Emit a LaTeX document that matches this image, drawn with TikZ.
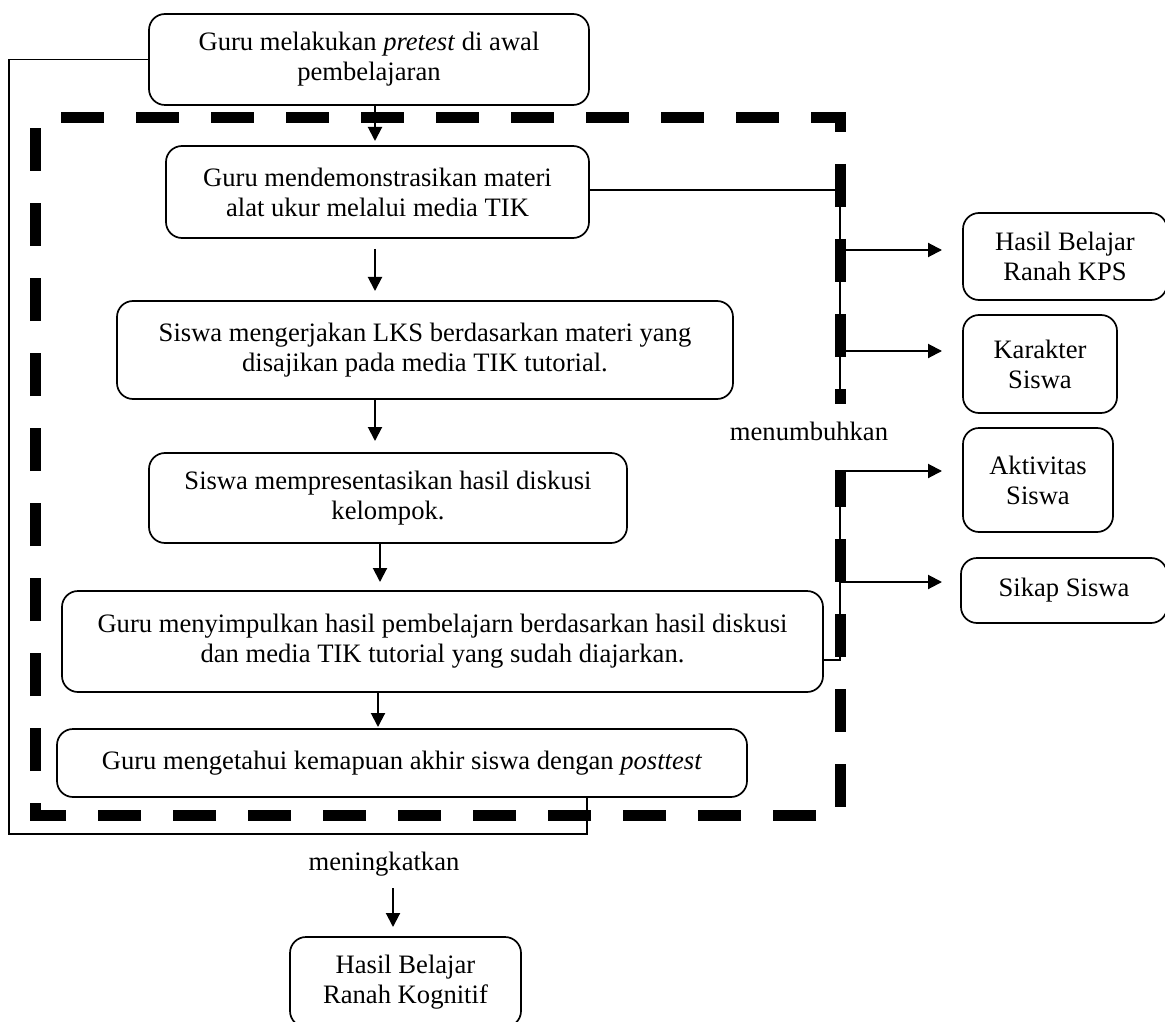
\documentclass[tikz,border=0pt]{standalone}
\usepackage{fontspec}
\setmainfont{Liberation Serif}
\usetikzlibrary{arrows.meta,calc}
\begin{document}
\begin{tikzpicture}[x=0.5pt,y=-0.5pt,
  txt/.style={font=\fontsize{13.3}{15}\selectfont},
  box/.style={txt, draw, line width=0.85pt, rounded corners=8pt, inner sep=0pt, outer sep=0pt, align=center},
  conn/.style={line width=0.65pt},
  arr/.style={line width=1pt, -{Triangle[length=7pt,width=7pt]}},
  bigdash/.style={line width=5.5pt, dash pattern=on 21.5pt off 16pt, dash phase=24.5pt}]
\useasboundingbox (0,0) rectangle (1165,1021);

% dashed frame
\coordinate (f1) at (35,118);
\coordinate (f2) at (840,118);
\coordinate (f3) at (840,815);
\coordinate (f4) at (35,815);
\draw[bigdash] (f1) -- (f2) -- (f3) -- (f4) -- cycle;

% boxes
\node[box, minimum width=220pt, minimum height=45.5pt] (b1) at (369,59.5) {Guru melakukan \textit{pretest} di awal\\pembelajaran};
\node[box, minimum width=211.5pt, minimum height=46pt] (b2) at (377.5,192) {Guru mendemonstrasikan materi\\alat ukur melalui media TIK};
\node[box, minimum width=308pt, minimum height=49pt] (b3) at (425,350) {Siswa mengerjakan LKS berdasarkan materi yang\\disajikan pada media TIK tutorial.};
\node[box, minimum width=239pt, minimum height=45pt] (b4) at (388,498) {Siswa mempresentasikan hasil diskusi\\kelompok.};
\node[box, minimum width=380.5pt, minimum height=50.5pt] (b5) at (442.5,641.5) {Guru menyimpulkan hasil pembelajarn berdasarkan hasil diskusi\\dan media TIK tutorial yang sudah diajarkan.};
\node[box, minimum width=345pt, minimum height=34pt] (b6) at (402,763) {Guru mengetahui kemapuan akhir siswa dengan \textit{posttest}};
\node[box, minimum width=115.5pt, minimum height=45pt] (kog) at (405.5,982) {Hasil Belajar\\Ranah Kognitif};
\node[box, minimum width=102pt, minimum height=43.5pt] (kps) at (1065,256.5) {Hasil Belajar\\Ranah KPS};
\node[box, minimum width=77pt, minimum height=49pt] (kar) at (1040,364) {Karakter\\Siswa};
\node[box, minimum width=75pt, minimum height=52pt] (akt) at (1038,480) {Aktivitas\\Siswa};
\node[box, minimum width=103pt, minimum height=32.5pt] (sik) at (1064,590.5) {Sikap Siswa};

% vertical flow arrows
\coordinate (x1) at (375,0);
\coordinate (x2) at (380,0);
\coordinate (x3) at (378,0);
\draw[arr, shorten >=2.5pt] (b1.south -| x1) -- (b2.north -| x1);
\draw[arr, shorten <=5.5pt, shorten >=5pt] (b2.south -| x1) -- (b3.north -| x1);
\draw[arr, shorten >=6pt] (b3.south -| x1) -- (b4.north -| x1);
\draw[arr, shorten >=4.5pt] (b4.south -| x2) -- (b5.north -| x2);
\draw[arr, shorten >=1pt] (b5.south -| x3) -- (b6.north -| x3);

% loop from pretest to posttest
\coordinate (lpA) at (9,834);
\coordinate (lpB) at (587,834);
\draw[conn] (b1.west) -| (lpA) -- (lpB) -- (lpB |- b6.south);

% bundle 1
\coordinate (j1) at (840,190);
\coordinate (j1e) at (840,404);
\coordinate (t1) at (840,250);
\coordinate (t2) at (840,351);
\draw[conn] (b2.east |- j1) -- (j1) -- (j1e);
\draw[arr, shorten >=10.5pt] (t1) -- (t1 -| kps.west);
\draw[arr, shorten >=10.5pt] (t2) -- (t2 -| kar.west);

% bundle 2
\coordinate (j2) at (840,660);
\coordinate (t3) at (840,471);
\coordinate (t4) at (840,582);
\draw[conn] (b5.east |- j2) -- (j2) -- (t3);
\draw[arr, shorten >=10.5pt] (t3) -- (t3 -| akt.west);
\draw[arr, shorten >=9.5pt] (t4) -- (t4 -| sik.west);

% labels
\node[txt, fill=white, inner xsep=2pt, inner ysep=0pt, text height=18pt, text depth=15pt, anchor=base] (tumb) at (809,440) {menumbuhkan};
\node[txt, inner sep=0pt, anchor=base] (ning) at (384,870) {meningkatkan};
\coordinate (m1) at (393,888);
\draw[arr, shorten >=5pt] (m1) -- (m1 |- kog.north);
\end{tikzpicture}
\end{document}
